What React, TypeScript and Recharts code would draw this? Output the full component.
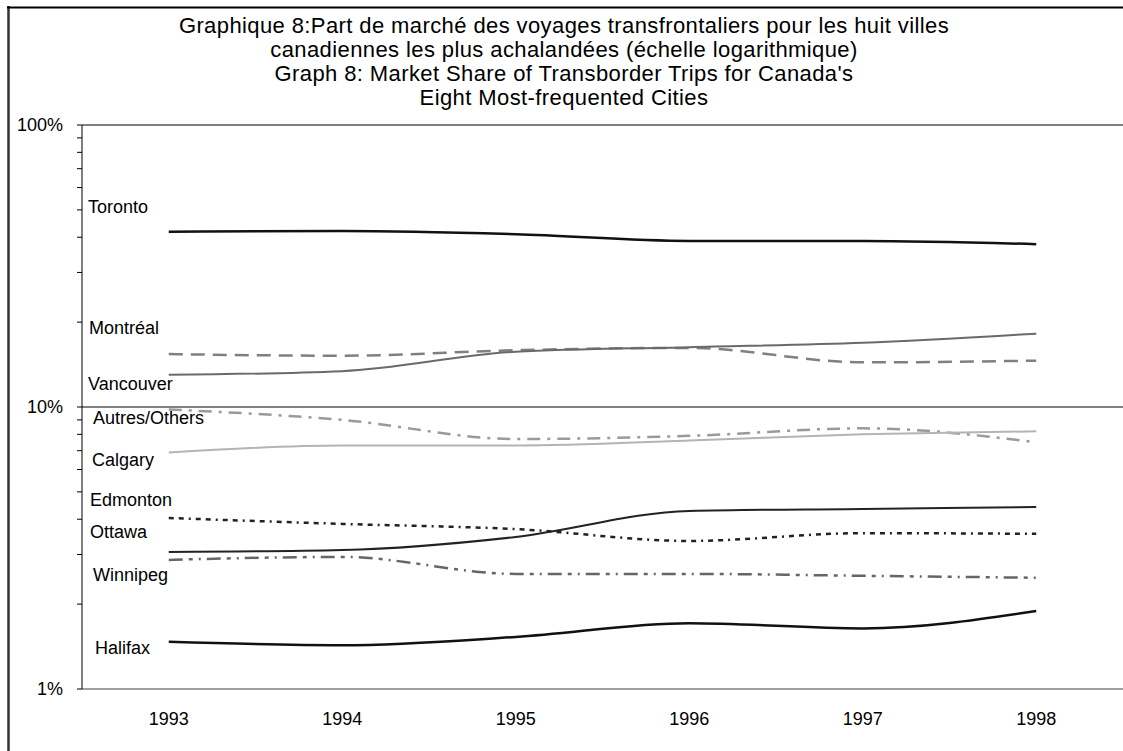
import React from 'react';
import { LineChart, Line, XAxis, YAxis, ReferenceLine } from 'recharts';

const years = ['1993', '1994', '1995', '1996', '1997', '1998'];
const toronto = [41.8, 42.1, 41.0, 38.8, 38.8, 37.8];
const montreal = [15.4, 15.2, 15.9, 16.2, 14.4, 14.6];
const vancouver = [13.0, 13.4, 15.7, 16.3, 16.9, 18.2];
const others = [9.8, 9.0, 7.7, 7.9, 8.4, 7.5];
const calgary = [6.9, 7.3, 7.3, 7.6, 8.0, 8.2];
const edmonton = [3.06, 3.11, 3.46, 4.28, 4.35, 4.42];
const ottawa = [4.04, 3.85, 3.69, 3.35, 3.57, 3.55];
const winnipeg = [2.87, 2.94, 2.56, 2.56, 2.52, 2.48];
const halifax = [1.47, 1.43, 1.53, 1.71, 1.64, 1.89];

const majorTicks = [1, 10, 100];
const minorTicks = [1, 2, 3, 4, 5, 6, 7, 8, 9, 10, 20, 30, 40, 50, 60, 70, 80, 90, 100];

const titleLines = [
  'Graphique 8:Part de marché des voyages transfrontaliers pour les huit villes',
  'canadiennes les plus achalandées (échelle logarithmique)',
  "Graph 8: Market Share of Transborder Trips for Canada's",
  'Eight Most-frequented Cities',
];

const seriesNames = ['Toronto', 'Montréal', 'Vancouver', 'Autres/Others', 'Calgary', 'Edmonton', 'Ottawa', 'Winnipeg', 'Halifax'];

const data = years.map((y, i) => ({
  year: y,
  toronto: toronto[i],
  montreal: montreal[i],
  vancouver: vancouver[i],
  others: others[i],
  calgary: calgary[i],
  edmonton: edmonton[i],
  ottawa: ottawa[i],
  winnipeg: winnipeg[i],
  halifax: halifax[i],
}));

// styles
const seriesStyles = [
  { key: 'toronto', stroke: '#111111', width: 2.5, dash: undefined },
  { key: 'montreal', stroke: '#808080', width: 2.5, dash: '14 8' },
  { key: 'vancouver', stroke: '#6a6a6a', width: 2, dash: undefined },
  { key: 'others', stroke: '#9a9a9a', width: 2.5, dash: '13 7 3 7' },
  { key: 'calgary', stroke: '#b4b4b4', width: 2, dash: undefined },
  { key: 'edmonton', stroke: '#222222', width: 2, dash: undefined },
  { key: 'ottawa', stroke: '#222222', width: 2.5, dash: '5 5 5 5 2 5' },
  { key: 'winnipeg', stroke: '#666666', width: 2.5, dash: '14 6 4 6 2 6' },
  { key: 'halifax', stroke: '#111111', width: 2.5, dash: undefined },
];

// label positions (page coords)
const labelPos = [
  [88, 207], [89, 328], [88, 384], [93, 418], [92, 460], [90, 500], [90, 532], [93, 575], [95, 648],
];

const FONT = '"Liberation Sans", Arial, sans-serif';

const YTick = (props: any) => {
  const { x, y, payload } = props;
  if (!majorTicks.includes(payload.value)) return <g />;
  return (
    <text x={x} y={y} textAnchor="end" dominantBaseline="central" fontSize={18} fontFamily={FONT} fill="#000">
      {payload.value}%
    </text>
  );
};

const XTick = (props: any) => {
  const { x, y, payload } = props;
  return (
    <text x={x} y={y + 28} textAnchor="middle" dominantBaseline="central" fontSize={18} fontFamily={FONT} fill="#000">
      {payload.value}
    </text>
  );
};

export default function App() {
  const W = 1123;
  const H = 751;
  return (
    <div style={{ position: 'absolute', left: 0, top: 0, width: W, height: H, background: '#fff', overflow: 'hidden' }}>
      <style>{'html,body{margin:0;padding:0;overflow:hidden;}'}</style>
      <LineChart width={W} height={H} data={data} margin={{ top: 125, right: 0, bottom: 22, left: 0 }}>
        <XAxis
          dataKey="year"
          scale="band"
          height={40}
          axisLine={{ stroke: '#808080', strokeWidth: 1.5 }}
          tickLine={false}
          tickSize={0}
          tick={<XTick />}
          interval={0}
        />
        <YAxis
          scale="log"
          domain={[1, 100]}
          ticks={minorTicks}
          interval={0}
          width={82}
          allowDataOverflow
          axisLine={{ stroke: '#000', strokeWidth: 1 }}
          tickLine={{ stroke: '#000', strokeWidth: 1 }}
          tickSize={5}
          tickMargin={14}
          tick={<YTick />}
        />
        <ReferenceLine y={10} stroke="#808080" strokeWidth={2} />
        <ReferenceLine y={100} stroke="#808080" strokeWidth={2} />
        {seriesStyles.map((s) => (
          <Line
            key={s.key}
            dataKey={s.key}
            type="monotone"
            stroke={s.stroke}
            strokeWidth={s.width}
            strokeDasharray={s.dash}
            dot={false}
            activeDot={false}
            isAnimationActive={false}
          />
        ))}
      </LineChart>
      <svg
        width={W}
        height={H}
        style={{ position: 'absolute', left: 0, top: 0, pointerEvents: 'none' }}
      >
        <line x1={8.5} y1={6} x2={8.5} y2={H} stroke="#333" strokeWidth={2.5} />
        <line x1={7} y1={7.5} x2={W} y2={7.5} stroke="#000" strokeWidth={2} />
        {titleLines.map((t, i) => (
          <text
            key={i}
            x={564}
            y={25 + i * 24}
            textAnchor="middle"
            dominantBaseline="central"
            fontSize={22}
            letterSpacing={0.4}
            fontFamily={FONT}
            fill="#000"
          >
            {t}
          </text>
        ))}
        {seriesNames.map((n, i) => (
          <text
            key={n}
            x={labelPos[i][0]}
            y={labelPos[i][1]}
            dominantBaseline="central"
            fontSize={18}
            fontFamily={FONT}
            fill="#000"
          >
            {n}
          </text>
        ))}
      </svg>
    </div>
  );
}
